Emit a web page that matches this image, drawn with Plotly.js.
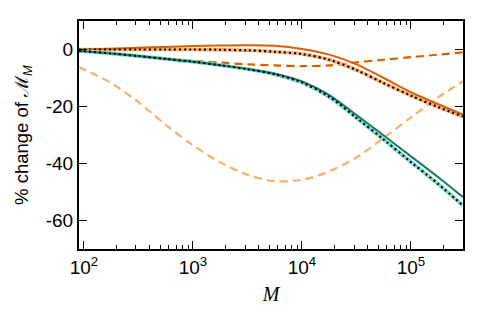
<!DOCTYPE html>
<html><head><meta charset="utf-8">
<script src="https://cdn.plot.ly/plotly-3.0.1.min.js"></script>
<style>body{margin:0;padding:0;background:#fff}#c{width:485px;height:314px}</style>
</head><body><div id="c"></div>
<script>
// M values (log-spaced sample points)
const M = [90, 100, 178, 316, 562, 1000, 1778, 3162, 5623, 10000, 17783, 31623, 56234, 100000, 177828, 300000];
// dark orange solid
const orangeSolid = [0, 0, 0.3, 0.6, 0.9, 1.2, 1.4, 1.5, 1.3, 0.2, -1.8, -5.2, -10.0, -15.0, -19.2, -22.8];
// light orange solid (overlaid by black dotted)
const orangeLight = [0, 0, 0, 0, 0, 0, -0.1, -0.3, -0.8, -1.6, -3.6, -7.2, -11.8, -16.2, -20.2, -23.5];
// dark orange dashed
const orangeDash = [-0.3, -0.5, -1.4, -2.4, -3.2, -3.9, -4.6, -5.2, -5.6, -5.8, -5.6, -4.5, -3.6, -2.7, -1.8, -1.0];
// light orange dashed
const orangeLightDash = [-6.1, -7.0, -11.8, -18.5, -26.4, -33.6, -39.6, -44.0, -46.2, -45.7, -42.8, -37.8, -31.0, -23.8, -16.8, -11.1];
// dark teal solid
const tealSolid = [-0.5, -0.6, -1.4, -2.3, -3.3, -4.3, -5.5, -6.8, -8.5, -11.2, -16.0, -23.0, -30.2, -37.5, -44.8, -51.8];
// light teal solid (overlaid by black dotted)
const tealLight = [-0.5, -0.6, -1.4, -2.3, -3.3, -4.3, -5.5, -6.9, -8.7, -11.6, -16.6, -24.0, -31.6, -39.5, -47.2, -54.8];

const xTicks = [100, 1000, 10000, 100000];
const xTickText = ['10<sup>2</sup>', '10<sup>3</sup>', '10<sup>4</sup>', '10<sup>5</sup>'];
const yTicks = [0, -20, -40, -60];
const yTickText = ['0', '-20', '-40', '-60'];

const minorX = [];
[100, 1000, 10000, 100000].forEach(d => { for (let k = 2; k <= 9; k++) { if (d * k <= 300000) minorX.push(d * k); } });

const sp = {shape: 'spline', smoothing: 0.9};
const traces = [
  {x: M, y: orangeLightDash, mode: 'lines', line: Object.assign({color: '#fdae6b', width: 2.2, dash: '8px,5px'}, sp)},
  {x: M, y: orangeDash, mode: 'lines', line: Object.assign({color: '#d95f02', width: 2.2, dash: '8px,5px'}, sp)},
  {x: M, y: orangeLight, mode: 'lines', line: Object.assign({color: '#fdae6b', width: 3.5}, sp)},
  {x: M, y: orangeSolid, mode: 'lines', line: Object.assign({color: '#d95f02', width: 2}, sp)},
  {x: M, y: orangeLight, mode: 'lines', line: Object.assign({color: '#000000', width: 2.2, dash: '2px,3px'}, sp)},
  {x: M, y: tealLight, mode: 'lines', line: Object.assign({color: '#7fdfcf', width: 3.8}, sp)},
  {x: M, y: tealSolid, mode: 'lines', line: Object.assign({color: '#1b7a63', width: 2}, sp)},
  {x: M, y: tealLight, mode: 'lines', line: Object.assign({color: '#000000', width: 2.2, dash: '2px,3px'}, sp)}
];

const layout = {
  width: 485, height: 314,
  margin: {l: 79, r: 22, t: 21, b: 65},
  paper_bgcolor: '#fff', plot_bgcolor: '#fff',
  showlegend: false,
  font: {family: 'Arial, Liberation Sans, sans-serif', color: '#000', size: 18},
  xaxis: {
    type: 'log', range: [Math.log10(90), Math.log10(300000)],
    tickmode: 'array', tickvals: xTicks, ticktext: xTickText,
    ticks: 'inside', ticklen: 8, tickwidth: 1, tickcolor: '#000',
    showline: true, linewidth: 2, linecolor: '#000', mirror: 'ticks',
    showgrid: false, zeroline: false,
    tickfont: {size: 19},
    minor: {tickmode: 'array', tickvals: minorX, ticks: 'inside', ticklen: 4, tickwidth: 1, tickcolor: '#000', showgrid: false},
    title: {text: 'M', font: {family: 'Liberation Serif, Times New Roman, serif', size: 20, style: 'italic'}, standoff: 10}
  },
  yaxis: {
    range: [-70, 10],
    tickmode: 'array', tickvals: yTicks, ticktext: yTickText,
    ticks: 'inside', ticklen: 8, tickwidth: 1, tickcolor: '#000',
    showline: true, linewidth: 2, linecolor: '#000', mirror: 'ticks',
    showgrid: false, zeroline: false,
    tickfont: {size: 19},
    title: {text: '% change of ℳ<sub><i>M</i></sub>', font: {size: 18.5}, standoff: 12}
  }
};
Plotly.newPlot('c', traces, layout, {staticPlot: true, displayModeBar: false});
</script></body></html>
